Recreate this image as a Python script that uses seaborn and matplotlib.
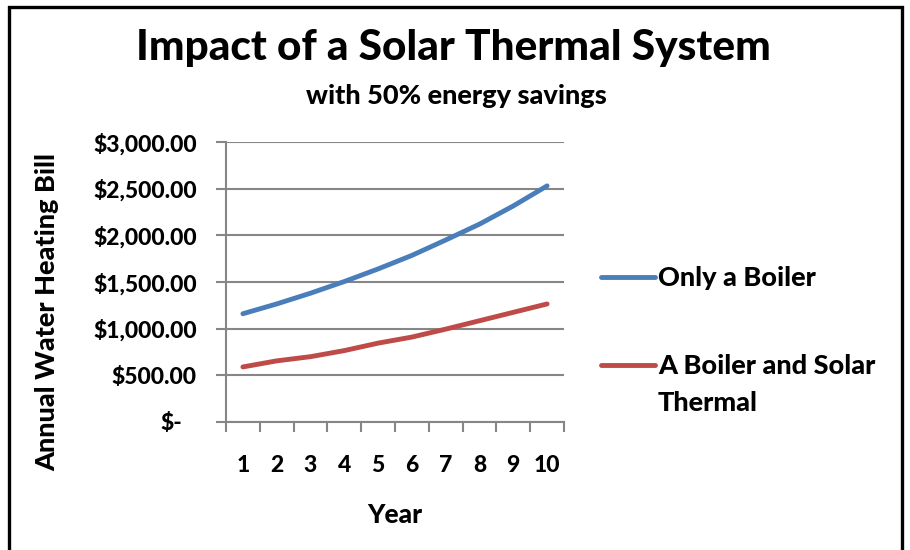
import matplotlib
matplotlib.use("Agg")
import matplotlib.pyplot as plt
import matplotlib.transforms as mtransforms
from matplotlib.patches import Rectangle
from matplotlib.ticker import FixedLocator, NullFormatter
import seaborn as sns
import pandas as pd

years = [1, 2, 3, 4, 5, 6, 7, 8, 9, 10]
only_boiler = [1160, 1265, 1380, 1505, 1640, 1785, 1950, 2120, 2315, 2530]
boiler_solar = [590, 655, 700, 765, 845, 910, 995, 1085, 1175, 1265]
series_names = ["Only a Boiler", "A Boiler and Solar Thermal"]
y_ticks = [0, 500, 1000, 1500, 2000, 2500, 3000]
y_tick_labels = ["$-", "$500.00", "$1,000.00", "$1,500.00", "$2,000.00", "$2,500.00", "$3,000.00"]
colors = ["#4A7EBB", "#BE4B48"]

df = pd.DataFrame({
    "Year": years * 2,
    "Bill": only_boiler + boiler_solar,
    "Series": [series_names[0]] * len(years) + [series_names[1]] * len(years),
})

sns.set_theme(style="white")
plt.rcParams["font.family"] = ["Lato", "DejaVu Sans"]
W = "black"
plt.rcParams["font.weight"] = W
for k in ["text.color", "axes.labelcolor", "xtick.labelcolor", "ytick.labelcolor"]:
    plt.rcParams[k] = "black"

fig = plt.figure(figsize=(9.1, 5.5), dpi=100)
ax = fig.add_axes([226 / 910, 1 - 422 / 550, (564 - 226) / 910, (422 - 142) / 550])

sns.lineplot(data=df, x="Year", y="Bill", hue="Series", palette=colors,
             linewidth=3.5, ax=ax, legend=True)
for ln in ax.get_lines():
    ln.set_solid_capstyle("round")

grid_c = "#868686"
ax.set_xlim(0.5, 10.5)
ax.set_ylim(0, 3000)
ax.set_yticks(y_ticks)
ax.set_yticklabels(y_tick_labels, fontsize=16.5, fontweight=W, color="black")
ax.yaxis.grid(True, color=grid_c, linewidth=1.5)
ax.xaxis.grid(False)
ax.set_axisbelow(True)

ax.xaxis.set_major_locator(FixedLocator([y + 0.5 for y in [0] + years]))
ax.xaxis.set_major_formatter(NullFormatter())
ax.xaxis.set_minor_locator(FixedLocator(years))
ax.set_xticklabels([str(y) for y in years], minor=True, fontsize=16.5, fontweight=W, color="black")
ax.tick_params(axis="x", which="major", length=7, width=1.5, color=grid_c, direction="out", bottom=True)
ax.tick_params(axis="x", which="minor", length=0, pad=24, bottom=True)
ax.tick_params(axis="y", which="major", length=7, width=1.5, color=grid_c, direction="out", left=True, pad=14)

for s in ["top", "right"]:
    ax.spines[s].set_visible(False)
for s in ["left", "bottom"]:
    ax.spines[s].set_color(grid_c)
    ax.spines[s].set_linewidth(1.5)

lbl0 = ax.get_yticklabels()[0]
lbl0.set_transform(lbl0.get_transform() + mtransforms.ScaledTranslation(-0.15, 0, fig.dpi_scale_trans))

ax.set_xlabel("Year", fontsize=19, fontweight=W, color="black")
ax.xaxis.set_label_coords(0.5, -(515 - 422) / 280, transform=None)
ax.xaxis.label.set_va("center")
ax.set_ylabel("Annual Water Heating Bill", fontsize=19.5, fontweight=W, color="black")
ax.yaxis.label.set_va("center")
ax.yaxis.set_label_coords(47 / 910, 1 - 312 / 550, transform=fig.transFigure)

fig.text(453 / 910, 1 - 48 / 550, "Impact of a Solar Thermal System", ha="center", va="center",
         fontsize=30.5, fontweight=W, color="black")
fig.text(456 / 910, 1 - 96 / 550, "with 50% energy savings", ha="center", va="center",
         fontsize=19.5, fontweight=W, color="black")

handles, labels = ax.get_legend_handles_labels()
leg = ax.legend(handles, ["Only a Boiler", "A Boiler and Solar"], loc="upper left",
                bbox_to_anchor=(601 / 910, 1 - 266 / 550), bbox_transform=fig.transFigure,
                frameon=False, fontsize=19.5, handlelength=2.0, handletextpad=0.1,
                labelspacing=2.38, borderpad=0, borderaxespad=0)
for t in leg.get_texts():
    t.set_fontweight(W)
    t.set_color("black")
for h in leg.get_lines():
    h.set_linewidth(3.5)
fig.text(658 / 910, 1 - 403 / 550, "Thermal", ha="left", va="center", fontsize=19.5,
         fontweight=W, color="black")

fig.add_artist(Rectangle((9 / 910, -0.05), (902 - 9) / 910, 1.05 - 7 / 550, transform=fig.transFigure,
                         fill=False, edgecolor="black", linewidth=2.4))

fig.savefig("out.png", dpi=100)
